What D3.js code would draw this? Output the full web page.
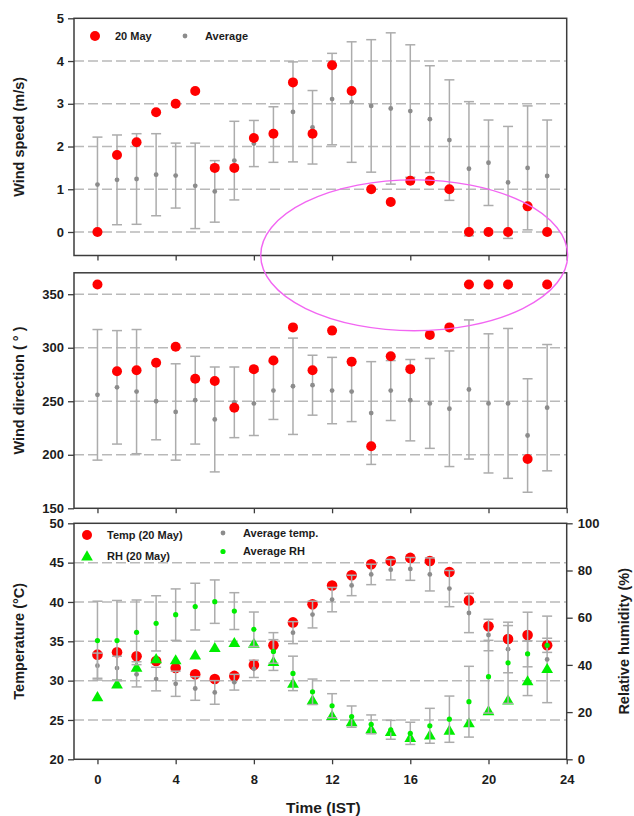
<!DOCTYPE html>
<html>
<head>
<meta charset="utf-8">
<script src="https://cdn.jsdelivr.net/npm/d3@7"></script>
<style>
  body { margin: 0; background: #fff; }
  svg { font-family: "Liberation Sans", Arial, sans-serif; font-weight: bold; }
</style>
</head>
<body>
<svg id="chart" width="634" height="816"></svg>
<script>
// hour of day (IST)
const hours = [0, 1, 2, 3, 4, 5, 6, 7, 8, 9, 10, 11, 12, 13, 14, 15, 16, 17, 18, 19, 20, 21, 22, 23];
const xTickValues = [0, 4, 8, 12, 16, 20, 24];

// wind speed (m/s)
const speedMay20 = [0, 1.8, 2.1, 2.8, 3.0, 3.3, 1.5, 1.5, 2.2, 2.3, 3.5, 2.3, 3.9, 3.3, 1.0, 0.7, 1.2, 1.2, 1.0, 0, 0, 0, 0.6, 0];
const speedAvg = [1.11, 1.22, 1.24, 1.34, 1.32, 1.08, 0.95, 1.67, 2.07, 2.28, 2.81, 2.45, 3.11, 3.04, 2.95, 2.89, 2.83, 2.64, 2.15, 1.48, 1.62, 1.16, 1.5, 1.31];
const speedSd = [1.11, 1.05, 1.06, 0.96, 0.76, 1.0, 0.72, 0.92, 0.54, 0.65, 1.17, 0.86, 1.07, 1.41, 1.55, 1.77, 1.55, 1.25, 1.41, 1.57, 1.0, 1.31, 1.45, 1.31];
const speedTicks = [0, 1, 2, 3, 4, 5];

// wind direction (degrees)
const dirMay20 = [359, 278, 279, 286, 301, 271, 269, 244, 280, 288, 319, 279, 316, 287, 208, 292, 280, 312, 319, 359, 359, 359, 196, 359];
const dirAvg = [256, 263, 259, 250, 240, 251, 233, 249, 248, 260, 264, 265, 260, 259, 239, 260, 251, 248, 243, 261, 248, 248, 218, 244];
const dirSd = [61, 53, 58, 36, 45, 41, 49, 33, 30, 27, 45, 28, 31, 28, 48, 28, 38, 42, 54, 65, 65, 70, 53, 59];
const dirTicks = [150, 200, 250, 300, 350];

// temperature (deg C)
const tempMay20 = [33.3, 33.6, 33.1, 32.5, 31.6, 30.8, 30.2, 30.6, 32.0, 34.5, 37.4, 39.7, 42.1, 43.4, 44.8, 45.2, 45.6, 45.2, 43.8, 40.2, 36.9, 35.3, 35.8, 34.5];
const tempAvg = [31.9, 31.6, 30.8, 30.2, 29.6, 29.0, 28.5, 29.8, 31.5, 33.7, 36.1, 38.4, 40.3, 42.1, 43.5, 44.1, 44.2, 43.5, 41.7, 38.6, 35.8, 34.0, 33.4, 32.7];
const tempSd = [1.6, 1.5, 1.6, 1.5, 1.6, 1.5, 1.5, 1.0, 1.1, 2.4, 1.4, 1.7, 1.55, 1.3, 1.3, 1.3, 1.45, 2.1, 2.3, 2.5, 2.0, 3.0, 5.3, 5.5];
const tempTicks = [20, 25, 30, 35, 40, 45, 50];

// relative humidity (%)
const rhMay20 = [26.5, 31.9, 39.0, 42.6, 42.1, 44.2, 47.3, 49.4, 49.1, 41.4, 32.2, 25.1, 18.5, 15.9, 12.8, 11.7, 9.2, 10.3, 12.3, 15.4, 20.5, 25.1, 33.2, 38.4];
const rhAvg = [50.3, 50.3, 53.8, 57.6, 61.3, 64.7, 66.8, 62.8, 55.1, 45.7, 36.4, 28.6, 22.7, 18.1, 14.8, 12.5, 11.0, 14.2, 17.0, 24.4, 35.0, 40.9, 44.7, 48.3];
const rhSd = [16.7, 17.0, 13.7, 11.7, 10.9, 9.9, 9.2, 7.8, 7.3, 5.0, 7.3, 5.4, 5.1, 4.5, 4.0, 4.0, 4.7, 7.4, 9.8, 15.0, 15.4, 17.2, 5.5, 3.0];
const rhTicks = [0, 20, 40, 60, 80, 100];

const RED = '#ff0000', GREEN = '#00ee00', GREY_DOT = '#8c8c8c', BAR = '#acacac',
      GRID = '#b9b9b9', FRAME = '#3c3c3c', INK = '#1c1c1c';

const svg = d3.select('#chart');

const x = d3.scaleLinear().domain([-1.2, 24]).range([74, 566.7]);

const ySpeed = d3.scaleLinear().domain([-0.55, 5]).range([255.5, 18.3]);
const yDir = d3.scaleLinear().domain([150, 370]).range([508.3, 272.8]);
const yTemp = d3.scaleLinear().domain([20, 50]).range([759.3, 523.3]);
const yRh = d3.scaleLinear().domain([0, 100]).range([759.3, 523.3]);

const gridLayer = svg.append('g');
const dataLayer = svg.append('g');
const axisLayer = svg.append('g');

function styleAxis(g) {
  g.select('.domain').remove();
  g.selectAll('.tick line').attr('stroke', FRAME).attr('stroke-width', 1.3);
  g.selectAll('.tick text').attr('fill', INK).style('font-size', '13px');
}

function panel(y, ticks, gridValues, showXLabels) {
  const [bottom, top] = y.range();

  gridLayer.selectAll(null)
    .data(gridValues)
    .enter().append('line')
      .attr('x1', x.range()[0]).attr('x2', x.range()[1])
      .attr('y1', d => y(d)).attr('y2', d => y(d))
      .attr('stroke', GRID).attr('stroke-width', 1.5)
      .attr('stroke-dasharray', '10,4');

  axisLayer.append('g')
      .attr('transform', `translate(${x.range()[0]},0)`)
      .call(d3.axisLeft(y).tickValues(ticks).tickFormat(d3.format('d'))
        .tickSize(6).tickPadding(4).tickSizeOuter(0))
      .call(styleAxis);

  axisLayer.append('g')
      .attr('transform', `translate(0,${bottom})`)
      .call(d3.axisBottom(x).tickValues(xTickValues).tickSize(5).tickPadding(10)
        .tickSizeOuter(0).tickFormat(showXLabels ? d3.format('d') : ''))
      .call(styleAxis);

  axisLayer.append('rect')
      .attr('x', x.range()[0]).attr('y', top)
      .attr('width', x.range()[1] - x.range()[0]).attr('height', bottom - top)
      .attr('fill', 'none').attr('stroke', FRAME).attr('stroke-width', 1.5);
}

function errorBars(y, means, sds) {
  const g = dataLayer.append('g').attr('stroke', BAR).attr('stroke-width', 1.5);
  hours.forEach((h, i) => {
    const cx = x(h), hi = y(means[i] + sds[i]), lo = y(means[i] - sds[i]);
    g.append('line').attr('x1', cx).attr('x2', cx).attr('y1', hi).attr('y2', lo);
    g.append('line').attr('x1', cx - 5).attr('x2', cx + 5).attr('y1', hi).attr('y2', hi);
    g.append('line').attr('x1', cx - 5).attr('x2', cx + 5).attr('y1', lo).attr('y2', lo);
  });
}

function dots(y, values, r, color) {
  dataLayer.append('g').selectAll('circle')
    .data(values)
    .enter().append('circle')
      .attr('cx', (d, i) => x(hours[i]))
      .attr('cy', d => y(d))
      .attr('r', r)
      .attr('fill', color);
}

function triangles(y, values) {
  const sym = d3.symbol().type(d3.symbolTriangle).size(60);
  dataLayer.append('g').selectAll('path')
    .data(values)
    .enter().append('path')
      .attr('d', sym)
      .attr('transform', (d, i) => `translate(${x(hours[i])},${y(d) + 1})`)
      .attr('fill', GREEN);
}

// panel 1: wind speed
panel(ySpeed, speedTicks, [0, 1, 2, 3, 4], false);
errorBars(ySpeed, speedAvg, speedSd);
dots(ySpeed, speedAvg, 2.4, GREY_DOT);
dots(ySpeed, speedMay20, 5, RED);

// panel 2: wind direction
panel(yDir, dirTicks, [200, 250, 300, 350], false);
errorBars(yDir, dirAvg, dirSd);
dots(yDir, dirAvg, 2.4, GREY_DOT);
dots(yDir, dirMay20, 5, RED);

// panel 3: temperature + RH
panel(yTemp, tempTicks, [25, 30, 35, 40, 45], true);
dots(yTemp, tempMay20, 5.3, RED);
errorBars(yTemp, tempAvg, tempSd);
dots(yTemp, tempAvg, 2.4, GREY_DOT);
triangles(yRh, rhMay20);
errorBars(yRh, rhAvg, rhSd);
dots(yRh, rhAvg, 2.6, GREEN);

axisLayer.append('g')
    .attr('transform', `translate(${x.range()[1]},0)`)
    .call(d3.axisRight(yRh).tickValues(rhTicks).tickSize(6).tickPadding(5).tickSizeOuter(0))
    .call(styleAxis);

// axis titles
function vTitle(tx, ty, text) {
  axisLayer.append('text')
      .attr('transform', `translate(${tx},${ty}) rotate(-90)`)
      .attr('text-anchor', 'middle')
      .attr('fill', INK)
      .style('font-size', '14.5px')
      .text(text);
}
vTitle(24, (ySpeed.range()[0] + ySpeed.range()[1]) / 2, 'Wind speed (m/s)');
vTitle(24, (yDir.range()[0] + yDir.range()[1]) / 2, 'Wind direction ( \u00B0 )');
vTitle(24, (yTemp.range()[0] + yTemp.range()[1]) / 2, 'Temperature (\u00B0C)');
vTitle(629, (yRh.range()[0] + yRh.range()[1]) / 2, 'Relative humidity (%)');

axisLayer.append('text')
    .attr('x', (x.range()[0] + x.range()[1]) / 2 + 3)
    .attr('y', 813)
    .attr('text-anchor', 'middle')
    .attr('fill', INK)
    .style('font-size', '15.5px')
    .text('Time (IST)');

// legends
const legend = svg.append('g').style('font-size', '11px').attr('fill', INK);
function legendItem(mx, my, kind, label) {
  if (kind === 'red') legend.append('circle').attr('cx', mx).attr('cy', my).attr('r', 5).attr('fill', RED);
  if (kind === 'grey') legend.append('circle').attr('cx', mx).attr('cy', my).attr('r', 2.4).attr('fill', GREY_DOT);
  if (kind === 'green') legend.append('circle').attr('cx', mx).attr('cy', my).attr('r', 2.6).attr('fill', GREEN);
  if (kind === 'tri') legend.append('path').attr('d', d3.symbol().type(d3.symbolTriangle).size(60)())
      .attr('transform', `translate(${mx},${my + 1})`).attr('fill', GREEN);
  legend.append('text').attr('x', mx + 20).attr('y', my).attr('dy', '0.35em').text(label);
}
legendItem(95, 36, 'red', '20 May');
legendItem(185, 36, 'grey', 'Average');
legendItem(87, 535, 'red', 'Temp (20 May)');
legendItem(87, 556, 'tri', 'RH (20 May)');
legendItem(223, 533, 'grey', 'Average temp.');
legendItem(223, 551.5, 'green', 'Average RH');

// hand-drawn ellipse highlighting the calm, northerly evening hours
const ell = { hour: 16.2, halfHours: 7.85, speedTop: 1.22, speedBottom: -2.31 };
svg.append('ellipse')
    .attr('cx', x(ell.hour))
    .attr('cy', (ySpeed(ell.speedTop) + ySpeed(ell.speedBottom)) / 2)
    .attr('rx', x(ell.hour + ell.halfHours) - x(ell.hour))
    .attr('ry', (ySpeed(ell.speedBottom) - ySpeed(ell.speedTop)) / 2)
    .attr('fill', 'none')
    .attr('stroke', '#f266f2')
    .attr('stroke-width', 1.4);
</script>
</body>
</html>
